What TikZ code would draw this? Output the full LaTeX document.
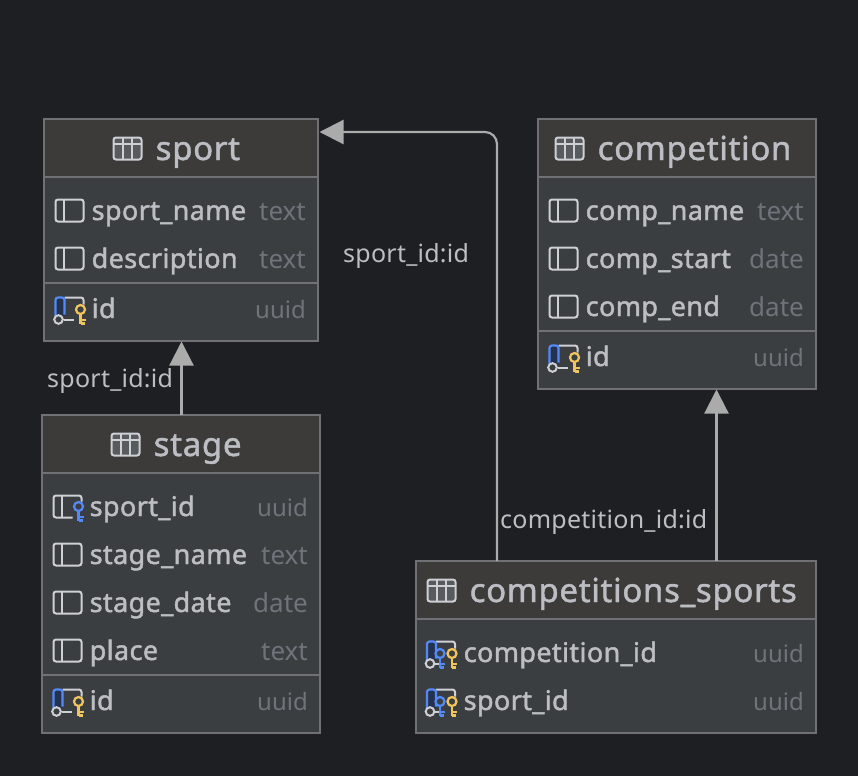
\documentclass[tikz,border=0pt]{standalone}
\usepackage{fontspec}
\setmainfont{Noto Sans}
\usetikzlibrary{calc,arrows.meta}
\definecolor{bgc}{HTML}{1E1F22}
\definecolor{headc}{HTML}{3C3B3A}
\definecolor{bodyc}{HTML}{3B3E41}
\definecolor{borderc}{HTML}{6F7174}
\definecolor{textc}{HTML}{BCBEC4}
\definecolor{typec}{HTML}{6F737A}
\definecolor{iconc}{HTML}{CED0D6}
\definecolor{bluec}{HTML}{548AF7}
\definecolor{navyc}{HTML}{25324D}
\definecolor{yellowc}{HTML}{F2C55C}
\definecolor{edgec}{HTML}{ABABAB}
\tikzset{
  x=1pt,y=-1pt,
  tbl/.style={draw=borderc,line width=1.2pt,fill=bodyc,inner sep=0,outer sep=0,minimum width=#1,anchor=north west},
  ttl/.style={anchor=base west,inner sep=0,text=textc,font=\fontsize{33}{33}\selectfont\addfontfeature{LetterSpace=2.1,FakeBold=1.4}},
  fld/.style={anchor=base west,inner sep=0,text=textc,font=\fontsize{27}{27}\selectfont\addfontfeature{LetterSpace=1.4,FakeBold=1.6}},
  typ/.style={anchor=base east,inner sep=0,text=typec,font=\fontsize{26}{26}\selectfont},
  typu/.style={anchor=base east,inner sep=0,text=typec,font=\fontsize{24}{24}\selectfont},
  lbl/.style={anchor=base west,inner sep=0,text=textc,font=\fontsize{25}{25}\selectfont\addfontfeature{LetterSpace=1}},
  edge/.style={draw=edgec,line width=2.2pt,-{Triangle[length=24pt,width=24pt,fill=edgec]},rounded corners=12pt},
  ico/.style={draw=iconc,line width=2pt},
  key/.style={line width=2.2pt},
  pics/tableicon/.style={code={
    \draw[ico,fill=bodyc!80!white!90!black,rounded corners=2.5pt] (-14,-11) rectangle (14,11);
    \draw[ico] (-14,-5) -- (14,-5) (-4.5,-11) -- (-4.5,11) (4.5,-11) -- (4.5,11);}},
  pics/colicon/.style={code={
    \draw[ico,rounded corners=2.5pt] (-14,-11) rectangle (14,11);
    \draw[ico] (-5.5,-11) -- (-5.5,11);}},
  pics/keyicon/.style={code={
    \draw[key,draw=#1,fill=bodyc] (0,-3) circle (4.5);
    \draw[key,draw=#1] (0,1.5) -- (0,11) (0,7.5) -- (5,7.5) (0,11) -- (4,11);}},
  pics/pkframe/.style={code={
    \draw[ico,rounded corners=2.5pt] (-5,-11) -- (14,-11) -- (14,-4);
    \draw[ico] (-6,11) -- (4,11);
    \fill[navyc] (-14,-9) -- (-14,8) -- (-5,8) -- (-5,-11) -- (-12,-11) to[out=180,in=90] cycle;
    \draw[bluec,line width=2.2pt,rounded corners=2.5pt] (-14,7) -- (-14,-11) -- (-5,-11) -- (-5,6);
    \draw[ico,fill=bodyc] (-11,11) circle (4.3);}},
  pics/fkframe/.style={code={
    \draw[ico,rounded corners=2.5pt] (5,11) -- (-14,11) -- (-14,-11) -- (14,-11) -- (14,-5);
    \draw[ico] (-5.5,-11) -- (-5.5,11);}},
}
\begin{document}
\begin{tikzpicture}
\useasboundingbox[fill=bgc] (0,0) rectangle (858,776);

% ---- sport
\node[tbl=274pt,minimum height=222pt] (sport) at (44,119) {};
\fill[headc] (44.6,119.6) rectangle (317.4,177);
\draw[borderc,line width=1.6pt] (44.6,177) -- (317.4,177) (44.6,283) -- (317.4,283);
\pic at (127.5,148.5) {tableicon};
\node[ttl] (sportT) at (155.5,160) {sport};
\pic at (69.5,210.5) {colicon};
\node[fld] (sport1) at (91.5,220) {sport\_name};
\node[typ] (sport1t) at (306,220) {text};
\pic at (69.5,258.5) {colicon};
\node[fld] (sport2) at (91.5,268) {description};
\node[typ] (sport2t) at (306,268) {text};
\pic at (69.5,308.5) {pkframe};
\pic at (80.5,312.5) {keyicon={yellowc}};
\node[fld] (sport3) at (91.5,318) {id};
\node[typu] (sport3t) at (306,318) {uuid};

% ---- competition
\node[tbl=278pt,minimum height=270pt] (competition) at (538,119) {};
\fill[headc] (538.6,119.6) rectangle (815.4,177);
\draw[borderc,line width=1.6pt] (538.6,177) -- (815.4,177) (538.6,331) -- (815.4,331);
\pic at (569.5,148.5) {tableicon};
\node[ttl] (compT) at (597.5,160) {competition};
\pic at (563.5,210.5) {colicon};
\node[fld] (comp1) at (585.5,220) {comp\_name};
\node[typ] (comp1t) at (804,220) {text};
\pic at (563.5,258.5) {colicon};
\node[fld] (comp2) at (585.5,268) {comp\_start};
\node[typ] (comp2t) at (804,268) {date};
\pic at (563.5,306.5) {colicon};
\node[fld] (comp3) at (585.5,316) {comp\_end};
\node[typ] (comp3t) at (804,316) {date};
\pic at (563.5,356.5) {pkframe};
\pic at (574.5,360.5) {keyicon={yellowc}};
\node[fld] (comp4) at (585.5,366) {id};
\node[typu] (comp4t) at (804,366) {uuid};

% ---- stage
\node[tbl=278pt,minimum height=318pt] (stage) at (42,415) {};
\fill[headc] (42.6,415.6) rectangle (319.4,473);
\draw[borderc,line width=1.6pt] (42.6,473) -- (319.4,473) (42.6,675) -- (319.4,675);
\pic at (125.5,444.5) {tableicon};
\node[ttl] (stageT) at (153.5,456) {stage};
\pic at (67.5,506.5) {fkframe};
\pic at (78.5,509.5) {keyicon={bluec}};
\node[fld] (stage1) at (89.5,516) {sport\_id};
\node[typu] (stage1t) at (308,516) {uuid};
\pic at (67.5,554.5) {colicon};
\node[fld] (stage2) at (89.5,564) {stage\_name};
\node[typ] (stage2t) at (308,564) {text};
\pic at (67.5,602.5) {colicon};
\node[fld] (stage3) at (89.5,612) {stage\_date};
\node[typ] (stage3t) at (308,612) {date};
\pic at (67.5,650.5) {colicon};
\node[fld] (stage4) at (89.5,660) {place};
\node[typ] (stage4t) at (308,660) {text};
\pic at (67.5,700.5) {pkframe};
\pic at (78.5,704.5) {keyicon={yellowc}};
\node[fld] (stage5) at (89.5,710) {id};
\node[typu] (stage5t) at (308,710) {uuid};

% ---- competitions_sports
\node[tbl=400pt,minimum height=172pt] (cs) at (416,561) {};
\fill[headc] (416.6,561.6) rectangle (815.4,619);
\draw[borderc,line width=1.6pt] (416.6,619) -- (815.4,619);
\pic at (441.5,590.5) {tableicon};
\node[ttl] (csT) at (469.5,602) {competitions\_sports};
\pic at (441,652.5) {pkframe};
\pic at (440,656.5) {keyicon={bluec}};
\pic at (452,656.5) {keyicon={yellowc}};
\node[fld] (cs1) at (463.5,662) {competition\_id};
\node[typu] (cs1t) at (804,662) {uuid};
\pic at (441,700.5) {pkframe};
\pic at (440,704.5) {keyicon={bluec}};
\pic at (452,704.5) {keyicon={yellowc}};
\node[fld] (cs2) at (463.5,710) {sport\_id};
\node[typu] (cs2t) at (804,710) {uuid};

% ---- connectors
\draw[edge] ($(stage.north)+(0.5,0)$) -- ($(sport.south)+(0.5,0.5)$);
\draw[edge] ($(cs.north west)+(81,0)$) -- ($(cs.north west)+(81,-429)$) -- ($(sport.north east)+(1.5,13)$);
\draw[edge] ($(cs.north west)+(300.5,0)$) -- ($(competition.south west)+(178.5,0.5)$);

% ---- connector labels
\node[lbl] (l1) at (343,262) {sport\_id:id};
\node[lbl] (l2) at (47,387) {sport\_id:id};
\node[lbl] (l3) at (500,528) {competition\_id:id};
\end{tikzpicture}
\end{document}
